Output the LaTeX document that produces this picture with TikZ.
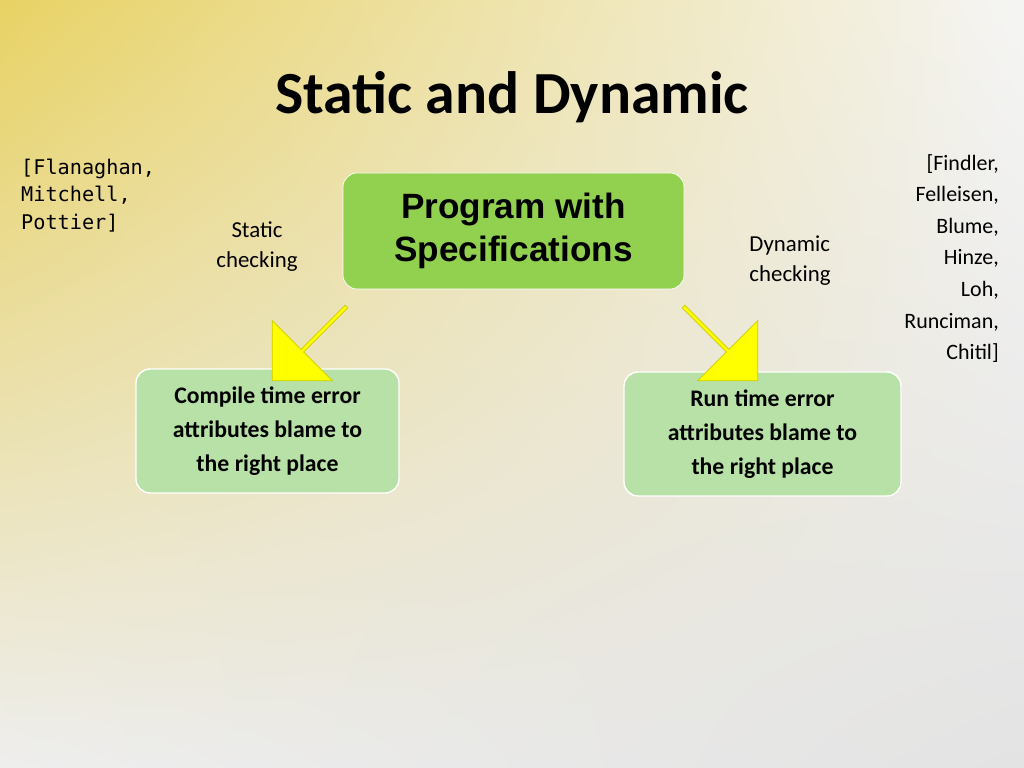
\documentclass[tikz,border=0pt]{standalone}
\usepackage{fontspec}
\setmainfont{Carlito}
\newfontfamily\arialfont{Liberation Sans}
\newfontfamily\monofont{DejaVu Sans Mono}
\usetikzlibrary{shapes.arrows, shadings}
\definecolor{themeYellow}{RGB}{232, 210, 100}
\definecolor{themeBack}{RGB}{238, 238, 238}
\definecolor{themeGreen}{RGB}{146, 208, 80}
\definecolor{themeLight}{RGB}{183, 225, 166}
\definecolor{themeArrow}{RGB}{255, 255, 0}

\begin{document}
\begin{tikzpicture} [
        main box/.style={draw=white, fill=themeGreen, rounded corners=8pt, minimum width=6.82cm, minimum height=2.32cm, align=center, font=\arialfont\bfseries\fontsize{20}{24}\selectfont},
        result box/.style={draw=white, thick, fill=themeLight, rounded corners=8pt, minimum height=2.48cm, align=center, font=\bfseries\fontsize{13.5}{19.5}\selectfont},
        block arrow/.style={single arrow, fill=themeArrow, draw=themeArrow!80!black, thin, minimum height=2.1cm, minimum width=1.7cm, single arrow head extend=0.15cm, inner sep=0pt},
        label check/.style={align=center, font=\fontsize{13}{17}\selectfont},
        label cite/.style={font=\fontsize{12.5}{18}\selectfont}
    ]

    \shade[upper left=themeYellow, upper right=themeBack!60, lower left=themeBack, lower right=themeBack!90!gray] (0,0) rectangle (20.48,15.36);
    \useasboundingbox (0,0) rectangle (20.48,15.36);

    \node[font=\bfseries\fontsize{34}{40}\selectfont] (title) at (10.24,13.42) {Static and Dynamic};

    \node[main box] (prog) at (10.27,10.74) {Program with\\Specifications};
    \node[result box, minimum width=5.26cm] (compile) at (5.35,6.74) {Compile time error\\attributes blame to\\the right place};
    \node[result box, minimum width=5.54cm] (run) at (15.25,6.68) {Run time error\\attributes blame to\\the right place};

    \node[block arrow, rotate=-135] (arrow static) at (6.2,8.5) {};
    \node[block arrow, rotate=-45] (arrow dynamic) at (14.4,8.5) {};

    \node[label check] (static) at (5.14,10.42) {Static\\checking};
    \node[label check, align=left] (dynamic) at (15.8,10.14) {Dynamic\\checking};

    \node[label cite, font=\monofont\fontsize{11.5}{15.5}\selectfont, align=left, anchor=north west] (cite static) at (0.3,12.3) {[Flanaghan,\\Mitchell,\\Pottier]};
    \node[label cite, align=right, anchor=north east] (cite dynamic) at (20.1,12.4) {[Findler,\\Felleisen,\\Blume,\\Hinze,\\Loh,\\Runciman,\\Chitil]};

\end{tikzpicture}
\end{document}
